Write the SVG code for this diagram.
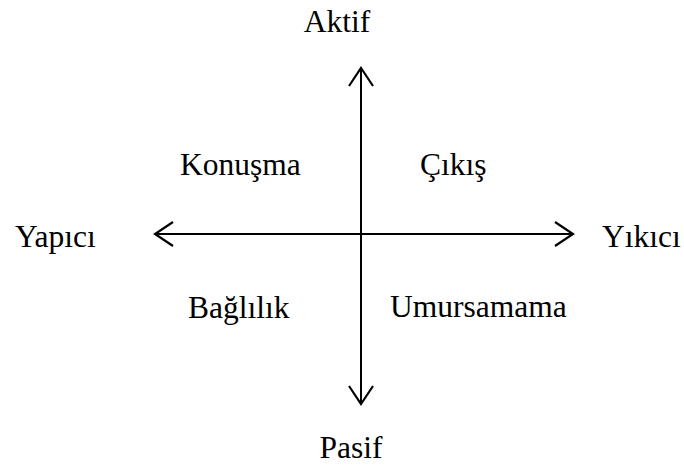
<svg xmlns="http://www.w3.org/2000/svg" width="684" height="469" viewBox="0 0 684 469">
<style>
text{font-family:"Liberation Serif","Times New Roman",serif;font-size:31.5px;fill:#000}
.ax{stroke:#000;stroke-width:2;fill:none}
</style>
<defs>
<marker id="ah" viewBox="-20 -14 24 28" refX="0" refY="0" markerWidth="24" markerHeight="28" markerUnits="userSpaceOnUse" orient="auto-start-reverse">
<path d="M-18,-12 L0,0 L-18,12" fill="none" stroke="#000" stroke-width="2.2"/>
</marker>
</defs>
<rect width="684" height="469" fill="#fff"/>
<g id="connectors">
<line class="ax" x1="361" y1="404" x2="361" y2="68" marker-start="url(#ah)" marker-end="url(#ah)"/>
<line class="ax" x1="155" y1="234" x2="573" y2="234" marker-start="url(#ah)" marker-end="url(#ah)"/>
</g>
<g id="aktif"><text x="337" y="32" text-anchor="middle">Aktif</text></g>
<g id="pasif"><text x="351" y="458" text-anchor="middle">Pasif</text></g>
<g id="yapici"><text x="15" y="247">Yapıcı</text></g>
<g id="yikici"><text x="602" y="247">Yıkıcı</text></g>
<g id="konusma"><text x="180" y="175">Konuşma</text></g>
<g id="cikis"><text x="420" y="175">Çıkış</text></g>
<g id="baglilik"><text x="188" y="318">Bağlılık</text></g>
<g id="umursamama"><text x="390" y="317">Umursamama</text></g>
</svg>
